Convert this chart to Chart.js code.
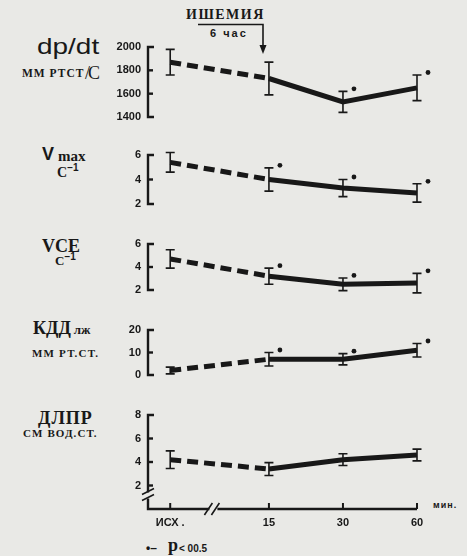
<!DOCTYPE html>
<html><head><meta charset="utf-8">
<script src="https://cdn.jsdelivr.net/npm/chart.js@4.4.1/dist/chart.umd.min.js"></script>
<style>
html,body{margin:0;padding:0}
body{background:#e9e9e6;width:467px;height:556px;overflow:hidden;position:relative;color:#181818}
canvas{position:absolute;left:0}
.t{position:absolute;white-space:nowrap;line-height:1;font-family:'Liberation Serif',serif;font-weight:bold}
.s{font-family:'Liberation Sans',Arial,sans-serif}
</style></head><body>

<!-- annotation -->
<div class="t" style="left:186px;top:8px;font-size:14px;letter-spacing:1.5px">ИШЕМИЯ</div>
<div class="t s" style="left:210px;top:28px;font-size:11px;letter-spacing:2px">6 час</div>
<svg style="position:absolute;left:0;top:0" width="467" height="60">
  <path d="M198 24.5 H263 V47" stroke="#181818" stroke-width="1.6" fill="none"/>
  <path d="M259.5 45 L266.5 45 L263 54 Z" fill="#181818"/>
</svg>

<!-- left labels -->
<div class="t s" style="left:37px;top:36px;font-size:22px;font-weight:normal;transform:scaleX(1.27);transform-origin:0 0">dp/dt</div>
<div class="t" style="left:22px;top:67.5px;font-size:11.5px;letter-spacing:1px">ММ РТСТ</div>
<div class="t" style="left:85px;top:64px;font-size:18px;font-weight:normal;letter-spacing:-2px">/С</div>

<div class="t s" style="left:42px;top:145px;font-size:18px">V</div>
<div class="t" style="left:58px;top:148.5px;font-size:15px">max</div>
<div class="t" style="left:57px;top:166px;font-size:14px">С<span class="s" style="font-size:10px;position:relative;top:-6px">−1</span></div>

<div class="t" style="left:42px;top:237px;font-size:18px">VCE</div>
<div class="t" style="left:55px;top:254px;font-size:13px">С<span class="s" style="font-size:10px;position:relative;top:-5px">−1</span></div>

<div class="t" style="left:33px;top:319px;font-size:18px">КДД<span style="font-size:13px;margin-left:3px">лж</span></div>
<div class="t" style="left:32px;top:348px;font-size:11px;letter-spacing:1.2px">ММ РТ.СТ.</div>

<div class="t" style="left:38px;top:409px;font-size:18px;letter-spacing:1px">ДЛПР</div>
<div class="t" style="left:23px;top:428px;font-size:11px;letter-spacing:1.1px">СМ ВОД.СТ.</div>

<div class="t s" style="left:433px;top:500.5px;font-size:9px;letter-spacing:1px">мин.</div>

<!-- legend -->
<div class="t s" style="left:146px;top:542px;font-size:12px">•–</div>
<div class="t" style="left:168px;top:536px;font-size:18px">р</div>
<div class="t s" style="left:179px;top:544px;font-size:10px">&lt; 00.5</div>

<canvas id="c1"></canvas>
<canvas id="c2"></canvas>
<canvas id="c3"></canvas>
<canvas id="c4"></canvas>
<canvas id="c5"></canvas>

<script>
// ---------- data ----------
const categories = ['ИСХ .', '15', '30', '60'];

const dpdtMean = [1870, 1730, 1530, 1650];
const dpdtErr  = [110, 140, 90, 110];
const dpdtSig  = [false, false, true, true];
const dpdtTicks = [1400, 1600, 1800, 2000];

const vmaxMean = [5.4, 4.0, 3.3, 2.9];
const vmaxErr  = [0.8, 0.95, 0.7, 0.75];
const vmaxSig  = [false, true, true, true];
const vmaxTicks = [2, 4, 6];

const vceMean = [4.7, 3.2, 2.5, 2.6];
const vceErr  = [0.8, 0.7, 0.55, 0.85];
const vceSig  = [false, true, true, true];
const vceTicks = [2, 4, 6];

const kddMean = [2, 7, 7, 11];
const kddErr  = [1.5, 3, 2.5, 3];
const kddSig  = [false, true, true, true];
const kddTicks = [0, 10, 20];

const dlprMean = [4.2, 3.4, 4.2, 4.6];
const dlprErr  = [0.75, 0.55, 0.5, 0.5];
const dlprSig  = [false, false, false, false];
const dlprTicks = [2, 4, 6, 8];

// ---------- layout / style ----------
const INK = '#181818';
// slot of each category on the broken time axis (ИСХ, break, 15, 30, 60)
const slot = [0, 4, 7, 10];

function panel(id, areaTop, areaBottom, yMin, yMax, ticks, mean, err, sig, withX) {
  const padT = 14, padB = withX ? 8 : 14, xH = withX ? 22 : 0;
  const cv = document.getElementById(id);
  const h = (areaBottom - areaTop) + padT + padB + xH;
  cv.width = 467; cv.height = h;
  cv.style.top = (areaTop - padT) + 'px';
  cv.style.width = '467px'; cv.style.height = h + 'px';

  const deco = {
    id: 'deco' + id,
    afterDatasetsDraw(chart) {
      const {ctx, chartArea: a, scales: {x, y}} = chart;
      ctx.save();
      ctx.strokeStyle = INK; ctx.fillStyle = INK; ctx.lineCap = 'butt';
      const L = a.left;
      // y axis bracket
      ctx.lineWidth = 2.4;
      ctx.beginPath();
      ctx.moveTo(L + 6, a.top); ctx.lineTo(L, a.top);
      if (!withX) {
        ctx.lineTo(L, a.bottom); ctx.lineTo(L + 6, a.bottom);
      } else {
        const by = y.getPixelForValue(1.15);
        ctx.lineTo(L, by - 3);
        ctx.moveTo(L, by + 3); ctx.lineTo(L, a.bottom);
        const bx = x.getPixelForValue(1.75);
        ctx.lineTo(bx - 4, a.bottom);
        ctx.moveTo(bx + 4, a.bottom);
        ctx.lineTo(x.getPixelForValue(slot[3]), a.bottom);
      }
      ctx.stroke();
      // inner ticks on y
      ticks.forEach(v => {
        if (v > yMin && v < yMax) {
          const p = y.getPixelForValue(v);
          ctx.beginPath(); ctx.moveTo(L, p); ctx.lineTo(L + 5, p); ctx.stroke();
        }
      });
      if (withX) {
        const by = y.getPixelForValue(1.15);
        ctx.lineWidth = 1.6;
        ctx.beginPath();
        ctx.moveTo(L - 6, by - 1); ctx.lineTo(L + 6, by - 7);
        ctx.moveTo(L - 6, by + 5); ctx.lineTo(L + 6, by - 1);
        const bx = x.getPixelForValue(1.75);
        ctx.moveTo(bx - 9, a.bottom + 6); ctx.lineTo(bx - 1, a.bottom - 6);
        ctx.moveTo(bx - 2, a.bottom + 6); ctx.lineTo(bx + 6, a.bottom - 6);
        ctx.stroke();
        ctx.lineWidth = 2;
        slot.forEach(s => {
          const px = x.getPixelForValue(s);
          ctx.beginPath(); ctx.moveTo(px, a.bottom); ctx.lineTo(px, a.bottom - 6); ctx.stroke();
        });
      }
      // error bars and significance dots
      ctx.lineWidth = 1.6;
      mean.forEach((m, i) => {
        const px = x.getPixelForValue(slot[i]);
        const t = y.getPixelForValue(m + err[i]);
        const b = y.getPixelForValue(m - err[i]);
        ctx.beginPath();
        ctx.moveTo(px, t); ctx.lineTo(px, b);
        ctx.moveTo(px - 4.5, t); ctx.lineTo(px + 4.5, t);
        ctx.moveTo(px - 4.5, b); ctx.lineTo(px + 4.5, b);
        ctx.stroke();
        if (sig[i]) {
          ctx.beginPath(); ctx.arc(px + 11, t - 2.5, 2.4, 0, Math.PI * 2); ctx.fill();
        }
      });
      ctx.restore();
    }
  };

  return new Chart(cv, {
    type: 'line',
    data: {
      datasets: [{
        data: mean.map((m, i) => ({x: slot[i], y: m})),
        borderColor: INK,
        borderWidth: 5,
        borderCapStyle: 'butt',
        pointRadius: 0,
        tension: 0,
        clip: false,
        segment: {
          borderDash: c => c.p0DataIndex === 0 ? [11, 6] : undefined
        }
      }]
    },
    options: {
      responsive: false,
      animation: false,
      devicePixelRatio: 1,
      events: [],
      layout: {padding: {left: 100, right: 50, top: padT, bottom: padB}},
      plugins: {legend: {display: false}, tooltip: {enabled: false}},
      scales: {
        x: {
          type: 'linear', min: -0.9, max: 10,
          display: withX,
          border: {display: false},
          grid: {display: false, drawTicks: false},
          afterBuildTicks: s => { s.ticks = slot.map(v => ({value: v})); },
          afterFit: s => { s.height = xH; },
          ticks: {
            autoSkip: false, maxRotation: 0, padding: 7, color: INK,
            font: {family: 'Liberation Sans', weight: 'bold', size: 11},
            callback: v => categories[slot.indexOf(v)]
          }
        },
        y: {
          type: 'linear', min: yMin, max: yMax,
          border: {display: false},
          grid: {display: false, drawTicks: false},
          afterBuildTicks: s => { s.ticks = ticks.map(v => ({value: v})); },
          afterFit: s => { s.width = 48; },
          ticks: {
            padding: 7, color: INK,
            font: {family: 'Liberation Sans', weight: 'bold', size: 11},
            callback: v => String(v)
          }
        }
      }
    },
    plugins: [deco]
  });
}

panel('c1', 47, 117, 1400, 2000, dpdtTicks, dpdtMean, dpdtErr, dpdtSig, false);
panel('c2', 155, 204, 2, 6, vmaxTicks, vmaxMean, vmaxErr, vmaxSig, false);
panel('c3', 244, 290, 2, 6, vceTicks, vceMean, vceErr, vceSig, false);
panel('c4', 330, 375, 0, 20, kddTicks, kddMean, kddErr, kddSig, false);
panel('c5', 415, 509, 0, 8, dlprTicks, dlprMean, dlprErr, dlprSig, true);
</script>
</body></html>
